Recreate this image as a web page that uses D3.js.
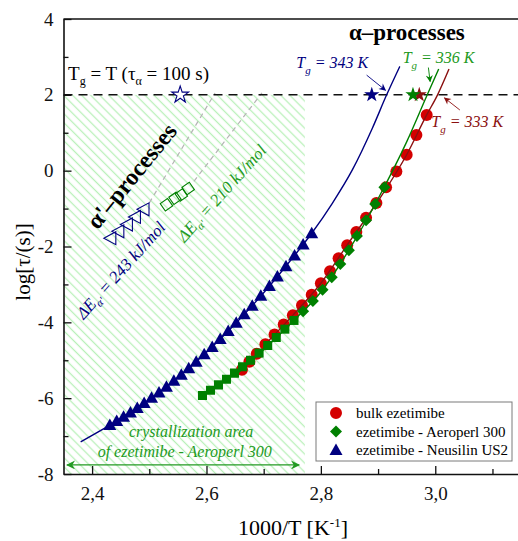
<!DOCTYPE html>
<html>
<head>
<meta charset="utf-8">
<script src="https://cdn.jsdelivr.net/npm/d3@7"></script>
<style>
body { margin: 0; background: #fff; }
svg text { font-family: "Liberation Serif", "Times New Roman", serif; }
</style>
</head>
<body>
<svg width="518" height="541"></svg>
<script>
// bulk ezetimibe, alpha-process
var bulkX = [2.662, 2.675, 2.688, 2.703, 2.719, 2.735, 2.751, 2.767, 2.784, 2.800, 2.816,
             2.831, 2.846, 2.862, 2.879, 2.897, 2.914, 2.932, 2.950, 2.967, 2.985];
var bulkY = [-5.25, -5.04, -4.83, -4.58, -4.32, -4.06, -3.81, -3.55, -3.27, -2.97, -2.65,
             -2.31, -1.97, -1.62, -1.24, -0.85, -0.44, -0.02, 0.42, 0.94, 1.47];

// ezetimibe - Aeroperl 300 (low part drawn as squares, upper part as diamonds)
var aeroSqX = [2.593, 2.607, 2.621, 2.635, 2.649, 2.663, 2.677, 2.692, 2.707, 2.722, 2.737, 2.753];
var aeroSqY = [-5.93, -5.79, -5.65, -5.50, -5.34, -5.17, -5.00, -4.81, -4.61, -4.40, -4.18, -3.95];
var aeroDiX = [2.769, 2.786, 2.803, 2.819, 2.834, 2.849, 2.863, 2.879, 2.895, 2.911];
var aeroDiY = [-3.71, -3.44, -3.14, -2.81, -2.46, -2.10, -1.72, -1.31, -0.88, -0.44];

// ezetimibe - Neusilin US2
var neusX = [2.431, 2.443, 2.455, 2.467, 2.479, 2.491, 2.504, 2.517, 2.530, 2.543, 2.556, 2.569, 2.582, 2.596,
             2.610, 2.624, 2.638, 2.652, 2.666, 2.680, 2.695, 2.710, 2.724, 2.739, 2.754, 2.769, 2.784];
var neusY = [-6.71, -6.60, -6.49, -6.38, -6.26, -6.13, -5.99, -5.85, -5.70, -5.54, -5.38, -5.21, -5.04, -4.84,
             -4.65, -4.44, -4.23, -4.01, -3.79, -3.56, -3.30, -3.04, -2.79, -2.52, -2.24, -1.95, -1.65];

// alpha' processes
var apNeusX = [2.431, 2.445, 2.460, 2.474, 2.489];
var apNeusY = [-1.78, -1.60, -1.42, -1.22, -1.02];
var apAeroX = [2.530, 2.545, 2.556, 2.568];
var apAeroY = [-0.90, -0.73, -0.64, -0.47];

// VFT fits
var fitBulkX = [2.70, 2.75, 2.80, 2.85, 2.90, 2.95, 2.985, 3.004, 3.024];
var fitBulkY = [-4.62, -3.83, -2.97, -1.87, -0.80, 0.42, 1.47, 2.00, 2.68];
var fitAeroX = [2.650, 2.70, 2.75, 2.80, 2.85, 2.90, 2.95, 2.986, 3.006];
var fitAeroY = [-5.40, -4.72, -3.99, -3.20, -2.07, -0.74, 0.76, 2.00, 2.68];
var fitNeusX = [2.380, 2.431, 2.50, 2.60, 2.70, 2.75, 2.784, 2.82, 2.855, 2.89, 2.915, 2.938];
var fitNeusY = [-7.15, -6.71, -6.04, -4.79, -3.22, -2.31, -1.65, -0.86, 0.02, 1.12, 2.00, 2.75];

// Arrhenius extrapolations of alpha'
var arrNeusX = [2.500, 2.615];
var arrNeusY = [-0.85, 2.05];
var arrAeroX = [2.578, 2.697];
var arrAeroY = [-0.28, 2.05];

// Tg stars at log(tau) = 2
var tgStarX = [2.972, 2.961, 2.889];
var tgOpenStarX = [2.554];
var logTauTg = 2;

var xTicks = [2.4, 2.6, 2.8, 3.0];
var xMinor = [2.5, 2.7, 2.9, 3.1];
var yTicks = [-8, -6, -4, -2, 0, 2, 4];
var yMinor = [-7, -5, -3, -1, 1, 3];

var legendLabels = ["bulk ezetimibe", "ezetimibe - Aeroperl 300", "ezetimibe - Neusilin US2"];

var red = "#d40000", darkRed = "#8b1010", green = "#008000", navy = "#000080",
    textGreen = "#239a23", hatchGreen = "#b8f0b8";

var svg = d3.select("svg");
var x = d3.scaleLinear().domain([2.35, 3.17]).range([63.5, 532.5]);
var y = d3.scaleLinear().domain([-8, 4]).range([474, 19]);

function pts(xs, ys) { return xs.map(function (v, i) { return [v, ys[i]]; }); }

var defs = svg.append("defs");
defs.append("pattern")
    .attr("id", "hatch")
    .attr("patternUnits", "userSpaceOnUse")
    .attr("width", 6.4).attr("height", 6.4)
    .attr("patternTransform", "rotate(-45)")
    .append("line")
    .attr("x1", 3.2).attr("y1", 0).attr("x2", 3.2).attr("y2", 6.4)
    .attr("stroke", hatchGreen).attr("stroke-width", 1.3);
defs.append("clipPath").attr("id", "plot")
    .append("rect")
    .attr("x", x(2.35)).attr("y", y(4))
    .attr("width", x(3.17) - x(2.35)).attr("height", y(-8) - y(4));

function arrowMarker(id, color, w, h) {
    defs.append("marker")
        .attr("id", id)
        .attr("viewBox", "0 -5 10 10")
        .attr("refX", 9).attr("refY", 0)
        .attr("markerUnits", "userSpaceOnUse")
        .attr("markerWidth", w).attr("markerHeight", h)
        .attr("orient", "auto-start-reverse")
        .append("path")
        .attr("d", "M0,-5L10,0L0,5L3,0Z")
        .attr("fill", color);
}
arrowMarker("arrG", textGreen, 14, 9);
arrowMarker("arrB", navy, 9, 7);
arrowMarker("arrGs", green, 8, 7);
arrowMarker("arrR", darkRed, 9, 7);

var g = svg.append("g").attr("clip-path", "url(#plot)");

// crystallization area
g.append("rect")
    .attr("x", x(2.35)).attr("y", y(2))
    .attr("width", x(2.772) - x(2.35))
    .attr("height", y(-8) - y(2))
    .attr("fill", "url(#hatch)");

var line = d3.line().x(function (d) { return x(d[0]); }).y(function (d) { return y(d[1]); });
var smooth = d3.line().curve(d3.curveMonotoneX)
    .x(function (d) { return x(d[0]); }).y(function (d) { return y(d[1]); });

[[arrNeusX, arrNeusY], [arrAeroX, arrAeroY]].forEach(function (s) {
    g.append("path")
        .attr("d", line(pts(s[0], s[1])))
        .attr("fill", "none")
        .attr("stroke", "#b4b4b4")
        .attr("stroke-width", 1.2)
        .attr("stroke-dasharray", "5,4");
});

// Tg line
g.append("line")
    .attr("x1", x(2.35)).attr("x2", x(3.17))
    .attr("y1", y(logTauTg)).attr("y2", y(logTauTg))
    .attr("stroke", "#111")
    .attr("stroke-width", 1.5)
    .attr("stroke-dasharray", "9,6");

// bulk
g.append("g").selectAll("circle")
    .data(pts(bulkX, bulkY))
    .enter().append("circle")
    .attr("cx", function (d) { return x(d[0]); })
    .attr("cy", function (d) { return y(d[1]); })
    .attr("r", 6)
    .attr("fill", red);
g.append("path").attr("d", smooth(pts(fitBulkX, fitBulkY)))
    .attr("fill", "none").attr("stroke", darkRed).attr("stroke-width", 1.4);

// aeroperl
var sq = d3.symbol().type(d3.symbolSquare).size(82);
g.append("g").selectAll("path")
    .data(pts(aeroSqX, aeroSqY))
    .enter().append("path")
    .attr("d", sq)
    .attr("transform", function (d) { return "translate(" + x(d[0]) + "," + y(d[1]) + ")"; })
    .attr("fill", green);
var dia = d3.symbol().type(d3.symbolSquare).size(72);
g.append("g").selectAll("path")
    .data(pts(aeroDiX, aeroDiY))
    .enter().append("path")
    .attr("d", dia)
    .attr("transform", function (d) { return "translate(" + x(d[0]) + "," + y(d[1]) + ") rotate(45)"; })
    .attr("fill", green);
g.append("path").attr("d", smooth(pts(fitAeroX, fitAeroY)))
    .attr("fill", "none").attr("stroke", green).attr("stroke-width", 1.4);

// neusilin
var triUp = "M0,-6.5L6.5,5L-6.5,5Z";
g.append("path").attr("d", smooth(pts(fitNeusX, fitNeusY)))
    .attr("fill", "none").attr("stroke", navy).attr("stroke-width", 1.4);
g.append("g").selectAll("path")
    .data(pts(neusX, neusY))
    .enter().append("path")
    .attr("d", triUp)
    .attr("transform", function (d) { return "translate(" + x(d[0]) + "," + y(d[1]) + ")"; })
    .attr("fill", navy);

// alpha' open symbols
g.append("g").selectAll("path")
    .data(pts(apNeusX, apNeusY))
    .enter().append("path")
    .attr("d", "M-6,0L6,-6.5L6,6.5Z")
    .attr("transform", function (d) { return "translate(" + x(d[0]) + "," + y(d[1]) + ")"; })
    .attr("fill", "none").attr("stroke", navy).attr("stroke-width", 1.1);
g.append("g").selectAll("path")
    .data(pts(apAeroX, apAeroY))
    .enter().append("path")
    .attr("d", d3.symbol().type(d3.symbolSquare).size(80))
    .attr("transform", function (d) { return "translate(" + x(d[0]) + "," + y(d[1]) + ") rotate(-35)"; })
    .attr("fill", "none").attr("stroke", green).attr("stroke-width", 1.1);

// Tg stars
var star = d3.symbol().type(d3.symbolStar).size(72);
var starCols = [darkRed, green, navy];
g.append("g").selectAll("path")
    .data(tgStarX)
    .enter().append("path")
    .attr("d", star)
    .attr("transform", function (d) { return "translate(" + x(d) + "," + y(logTauTg) + ")"; })
    .attr("fill", function (d, i) { return starCols[i]; });
g.append("g").selectAll("path")
    .data(tgOpenStarX)
    .enter().append("path")
    .attr("d", d3.symbol().type(d3.symbolStar).size(88))
    .attr("transform", function (d) { return "translate(" + x(d) + "," + y(logTauTg) + ")"; })
    .attr("fill", "#fff").attr("stroke", navy).attr("stroke-width", 1.1);

// crystallization arrow + text
svg.append("line")
    .attr("x1", x(2.356)).attr("x2", x(2.762))
    .attr("y1", y(-7.76)).attr("y2", y(-7.76))
    .attr("stroke", textGreen).attr("stroke-width", 1.4)
    .attr("marker-start", "url(#arrG)").attr("marker-end", "url(#arrG)");
svg.append("text")
    .attr("x", x(2.573)).attr("y", y(-7.03))
    .attr("text-anchor", "middle")
    .attr("font-style", "italic").attr("font-size", 16)
    .attr("fill", textGreen)
    .text("crystallization area");
svg.append("text")
    .attr("x", x(2.562)).attr("y", y(-7.76) - 8)
    .attr("text-anchor", "middle")
    .attr("font-style", "italic").attr("font-size", 16)
    .attr("fill", textGreen)
    .text("of ezetimibe - Aeroperl 300");

// Tg = T(tau = 100 s)
var t1 = svg.append("text").attr("x", x(2.358)).attr("y", y(2.39)).attr("font-size", 19);
t1.append("tspan").text("T");
t1.append("tspan").attr("font-size", 12).attr("dy", 5).text("g");
t1.append("tspan").attr("dy", -5).text(" = T (τ");
t1.append("tspan").attr("font-size", 12).attr("dy", 5).text("α");
t1.append("tspan").attr("dy", -5).text(" = 100 s)");

svg.append("text")
    .attr("x", x(2.849)).attr("y", y(3.45))
    .attr("font-size", 23).attr("font-weight", "bold")
    .text("α–processes");

svg.append("text")
    .attr("transform", "translate(" + 138 + "," + 181 + ") rotate(-51)")
    .attr("text-anchor", "middle")
    .attr("font-size", 24).attr("font-weight", "bold")
    .text("α'–processes");

function energyLabel(px, py, col, val) {
    var t = svg.append("text")
        .attr("transform", "translate(" + px + "," + py + ") rotate(-48)")
        .attr("text-anchor", "middle")
        .attr("font-size", 17).attr("font-style", "italic")
        .attr("fill", col);
    t.append("tspan").text("ΔE");
    t.append("tspan").attr("font-size", 11).attr("dy", 4).text("α'");
    t.append("tspan").attr("dy", -4).text(" = " + val + " kJ/mol");
}
energyLabel(125, 274, navy, 243);
energyLabel(226, 197, textGreen, 210);

function tgLabel(px, py, col, val) {
    var t = svg.append("text")
        .attr("x", px).attr("y", py)
        .attr("font-size", 16).attr("font-style", "italic")
        .attr("fill", col);
    t.append("tspan").text("T");
    t.append("tspan").attr("font-size", 11).attr("dy", 6).text("g");
    t.append("tspan").attr("dy", -6).text(" = " + val + " K");
}
tgLabel(x(2.757), y(2.71), navy, 343);
tgLabel(x(2.943), y(2.85), textGreen, 336);
tgLabel(x(2.993), y(1.14), darkRed, 333);

function pointer(x1, y1, x2, y2, col, m) {
    svg.append("line")
        .attr("x1", x(x1)).attr("y1", y(y1)).attr("x2", x(x2)).attr("y2", y(y2))
        .attr("stroke", col).attr("stroke-width", 0.9)
        .attr("marker-end", "url(#" + m + ")");
}
pointer(2.880, 2.52, 2.913, 2.12, navy, "arrB");
pointer(2.988, 2.72, 2.991, 2.35, green, "arrGs");
pointer(3.043, 1.60, 3.016, 1.92, darkRed, "arrR");

// axes
var axes = svg.append("g");
var fmtX = function (d) { return d3.format(".1f")(d).replace(".", ","); };
axes.append("g").attr("transform", "translate(0," + y(-8) + ")")
    .call(d3.axisBottom(x).tickValues(xTicks).tickSizeInner(-8).tickSizeOuter(0)
        .tickPadding(13).tickFormat(fmtX));
axes.append("g").attr("transform", "translate(0," + y(-8) + ")")
    .call(d3.axisBottom(x).tickValues(xMinor).tickSizeInner(-5).tickSizeOuter(0).tickFormat(""))
    .select(".domain").remove();
axes.append("g").attr("transform", "translate(" + x(2.35) + ",0)")
    .call(d3.axisLeft(y).tickValues(yTicks).tickSizeInner(-8).tickSizeOuter(0)
        .tickPadding(10).tickFormat(function (d) { return String(d); }));
axes.append("g").attr("transform", "translate(" + x(2.35) + ",0)")
    .call(d3.axisLeft(y).tickValues(yMinor).tickSizeInner(-5).tickSizeOuter(0).tickFormat(""))
    .select(".domain").remove();
axes.selectAll("text").attr("font-size", 19).attr("fill", "#111");
axes.selectAll("line").attr("stroke", "#111").attr("stroke-width", 1.3);
axes.selectAll(".domain").attr("stroke", "#111").attr("stroke-width", 1.6);
axes.append("line")
    .attr("x1", x(2.35)).attr("x2", x(3.17))
    .attr("y1", y(4)).attr("y2", y(4))
    .attr("stroke", "#111").attr("stroke-width", 1.6);

// axis titles
svg.append("text")
    .attr("transform", "translate(30," + 262 + ") rotate(-90)")
    .attr("text-anchor", "middle").attr("font-size", 21)
    .text("log[τ/(s)]");
var xt = svg.append("text")
    .attr("x", 293).attr("y", 535)
    .attr("text-anchor", "middle").attr("font-size", 22);
xt.append("tspan").text("1000/T [K");
xt.append("tspan").attr("font-size", 13).attr("dy", -8).text("-1");
xt.append("tspan").attr("dy", 8).text("]");

// legend
var lg = svg.append("g").attr("transform", "translate(316,402)");
lg.append("rect").attr("width", 196).attr("height", 59)
    .attr("fill", "#fff").attr("stroke", "#7a7a7a").attr("stroke-width", 1);
var legendShapes = [
    d3.symbol().type(d3.symbolCircle).size(113)(),
    d3.symbol().type(d3.symbolSquare).size(72)(),
    triUp
];
var legendRot = [0, 45, 0];
var legendCols = [red, green, navy];
var rows = lg.selectAll(".row").data(legendLabels).enter().append("g")
    .attr("transform", function (d, i) { return "translate(0," + (11 + i * 18.5) + ")"; });
rows.append("path")
    .attr("d", function (d, i) { return legendShapes[i]; })
    .attr("transform", function (d, i) { return "translate(20,0) rotate(" + legendRot[i] + ")"; })
    .attr("fill", function (d, i) { return legendCols[i]; });
rows.append("text")
    .attr("x", 40).attr("y", 5)
    .attr("font-size", 15)
    .text(function (d) { return d; });
</script>
</body>
</html>
